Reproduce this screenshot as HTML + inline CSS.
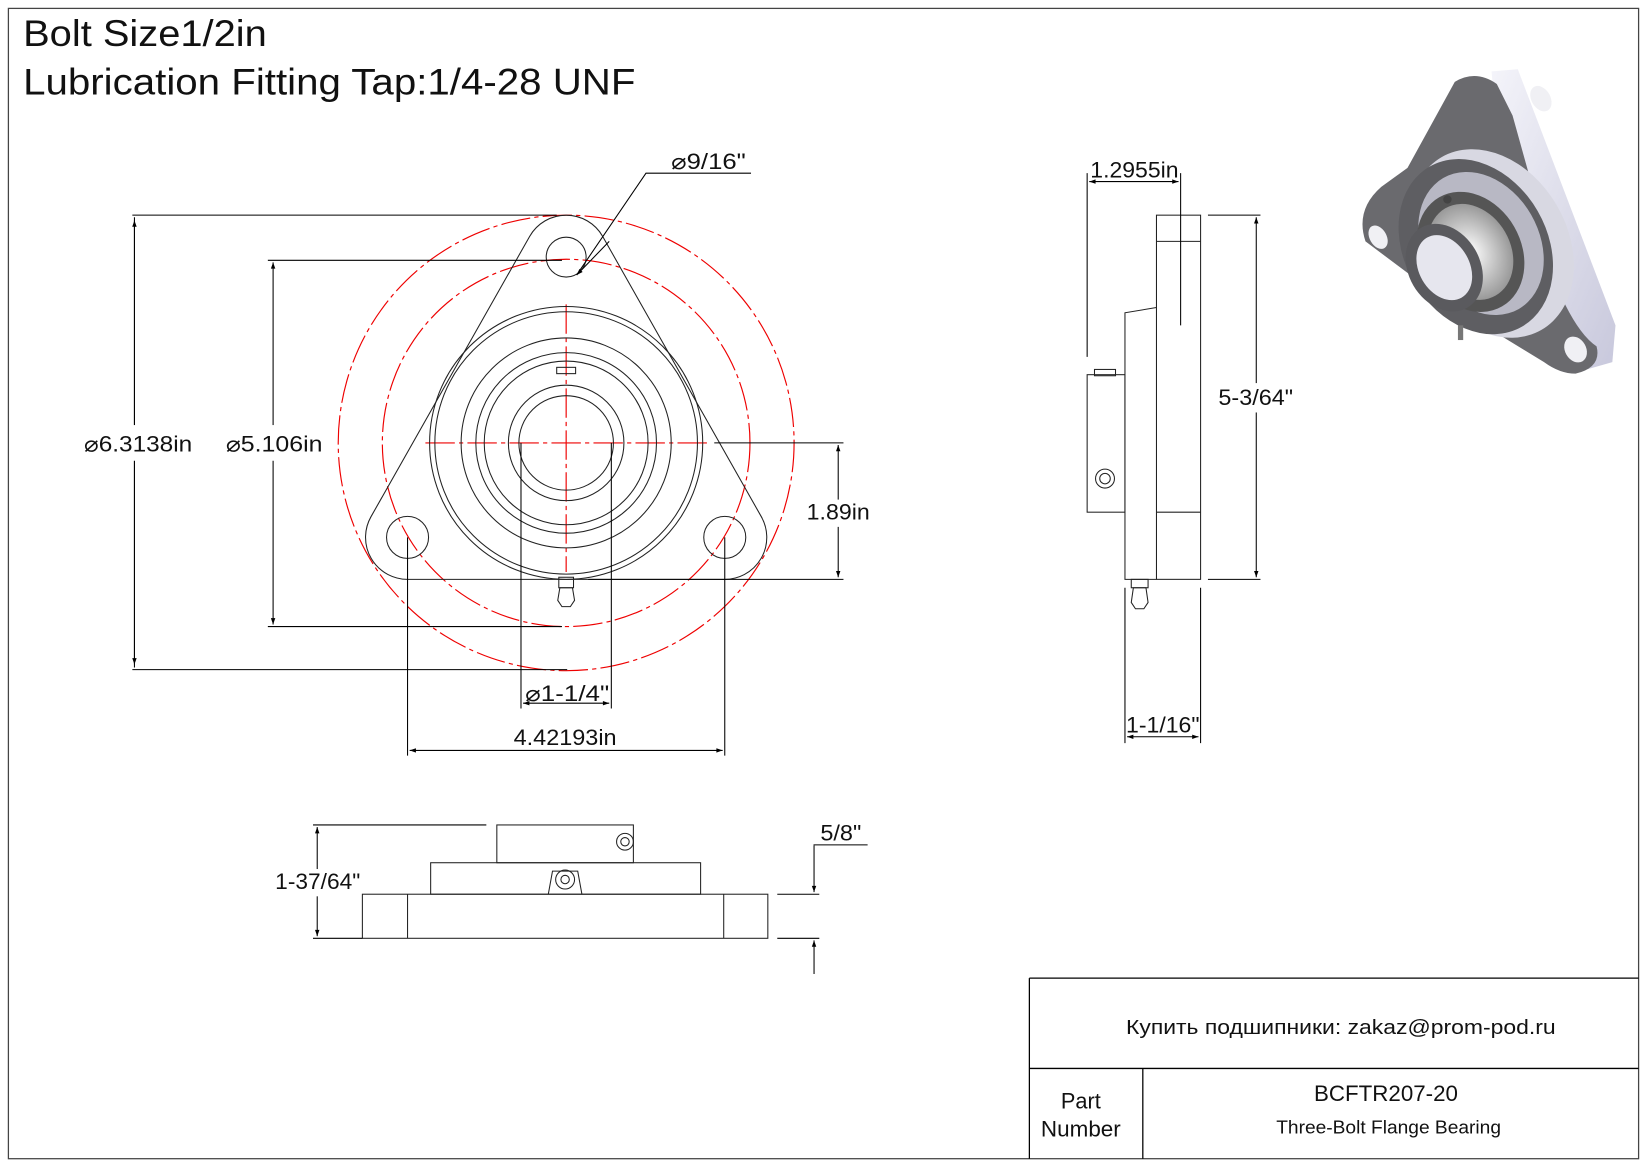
<!DOCTYPE html>
<html><head><meta charset="utf-8"><style>
html,body{margin:0;padding:0;background:#fff}
svg{display:block}
text{font-family:"Liberation Sans","DejaVu Sans",sans-serif;fill:#111}
</style></head><body>
<svg width="1647" height="1165" viewBox="0 0 1568 1110" preserveAspectRatio="none" xmlns="http://www.w3.org/2000/svg">
<defs>
<marker id="a" viewBox="0 0 10 10" refX="10" refY="5" markerWidth="14" markerHeight="6" markerUnits="userSpaceOnUse" orient="auto-start-reverse"><path d="M0,1.5 L10,5 L0,8.5z" fill="#000"/></marker>
<linearGradient id="g1" x1="0" y1="0" x2="1" y2="1"><stop offset="0" stop-color="#f4f4fa"/><stop offset="1" stop-color="#c8c8dc"/></linearGradient>
<radialGradient id="g2"><stop offset="0" stop-color="#fff"/><stop offset="1" stop-color="#999"/></radialGradient>
</defs>
<rect x="8" y="8" width="1552" height="1096" fill="none" stroke="#444" stroke-width="1.2"/>
<text x="22" y="44" font-size="35" textLength="232" lengthAdjust="spacingAndGlyphs">Bolt Size1/2in</text>
<text x="22" y="90" font-size="35" textLength="583" lengthAdjust="spacingAndGlyphs">Lubrication Fitting Tap:1/4-28 UNF</text>

<!-- table -->
<g stroke="#000" stroke-width="1.2" fill="none">
<path d="M980 932 H1560 M980 1018 H1560 M980 932 V1104 M1088 1018 V1104"/>
</g>
<text x="1072" y="985" font-size="19" textLength="409" lengthAdjust="spacingAndGlyphs">Купить подшипники: zakaz@prom-pod.ru</text>
<text x="1010" y="1056" font-size="21" textLength="38" lengthAdjust="spacingAndGlyphs">Part</text>
<text x="991" y="1083" font-size="21" textLength="76" lengthAdjust="spacingAndGlyphs">Number</text>
<text x="1251" y="1049" font-size="21" textLength="137" lengthAdjust="spacingAndGlyphs">BCFTR207-20</text>
<text x="1215" y="1080" font-size="18" textLength="214" lengthAdjust="spacingAndGlyphs">Three-Bolt Flange Bearing</text>

<!-- front view -->
<g fill="none" stroke="#e00" stroke-width="1.1" stroke-dasharray="28,4,4,4">
<circle cx="539" cy="422" r="217"/>
<circle cx="539" cy="422" r="175"/>
<path d="M405 422 H675 M539 290 V545"/>
</g>
<g fill="none" stroke="#222" stroke-width="1">
<path d="M504.2 225.3 A40 40 0 0 1 573.8 225.3 L724.8 492.3 A40 40 0 0 1 690 552 L388 552 A40 40 0 0 1 353.2 492.3 Z"/>
<circle cx="539" cy="245" r="19"/>
<circle cx="388" cy="512" r="20"/>
<circle cx="690" cy="512" r="20"/>
<circle cx="539" cy="422" r="130"/>
<circle cx="539" cy="422" r="125"/>
<circle cx="539" cy="422" r="100"/>
<circle cx="539" cy="422" r="86"/>
<circle cx="539" cy="422" r="78"/>
<circle cx="539" cy="422" r="55"/>
<circle cx="539" cy="422" r="45"/>
<rect x="530" y="350" width="18" height="6"/>
<rect x="532" y="550" width="14" height="10"/>
<path d="M533 560 h12 l2 12 l-4 6 h-8 l-4 -6 z"/>
</g>
<!-- front dims -->
<g stroke="#000" stroke-width="1" fill="none">
<path d="M126 205 H530 M126 638 H540 M128 207 V636" />
<path d="M255 248 H535 M255 597 H535"/>
<path d="M680 422 H803 M560 552 H803"/>
<path d="M496 422 V675 M582 422 V675"/>
<path d="M388 512 V720 M690 512 V720"/>
<path d="M549 262 L615 165 H715"/>
<path d="M128 210 V633" marker-start="url(#a)" marker-end="url(#a)"/>
<path d="M260 250 V595" marker-start="url(#a)" marker-end="url(#a)"/>
<path d="M798 424 V550" marker-start="url(#a)" marker-end="url(#a)"/>
<path d="M498 670 H580" marker-start="url(#a)" marker-end="url(#a)"/>
<path d="M390 715 H688" marker-start="url(#a)" marker-end="url(#a)"/>
<path d="M580 230 L549 262" marker-end="url(#a)"/>
</g>
<rect x="74" y="405" width="112" height="34" fill="#fff"/>
<text x="80" y="430" font-size="21" textLength="103" lengthAdjust="spacingAndGlyphs">⌀6.3138in</text>
<rect x="210" y="405" width="100" height="34" fill="#fff"/>
<text x="215" y="430" font-size="21" textLength="92" lengthAdjust="spacingAndGlyphs">⌀5.106in</text>
<rect x="766" y="476" width="64" height="26" fill="#fff"/>
<text x="768" y="495" font-size="21" textLength="60" lengthAdjust="spacingAndGlyphs">1.89in</text>
<text x="500" y="668" font-size="21" textLength="80" lengthAdjust="spacingAndGlyphs">⌀1-1/4"</text>
<text x="489" y="710" font-size="21" textLength="98" lengthAdjust="spacingAndGlyphs">4.42193in</text>
<text x="639" y="161" font-size="21" textLength="71" lengthAdjust="spacingAndGlyphs">⌀9/16"</text>

<!-- side view -->
<g fill="none" stroke="#222" stroke-width="1">
<rect x="1101" y="205" width="42" height="347"/>
<path d="M1101 230 H1143 M1101 488 H1143"/>
<path d="M1101 293 L1071 298 V552 H1101"/>
<rect x="1035" y="357" width="36" height="131"/>
<rect x="1042" y="352" width="20" height="6"/>
<circle cx="1052" cy="456" r="9"/><circle cx="1052" cy="456" r="5"/>
<rect x="1077" y="552" width="16" height="8"/>
<path d="M1079 560 h12 l2 14 l-4 6 h-8 l-4 -6 z"/>
</g>
<g stroke="#000" stroke-width="1" fill="none">
<path d="M1035 165 V340 M1124 165 V310"/>
<path d="M1037 173 H1122" marker-start="url(#a)" marker-end="url(#a)"/>
<path d="M1150 205 H1200 M1150 552 H1200"/>
<path d="M1196 207 V550" marker-start="url(#a)" marker-end="url(#a)"/>
<path d="M1071 560 V708 M1143 560 V708"/>
<path d="M1073 702 H1141" marker-start="url(#a)" marker-end="url(#a)"/>
</g>
<text x="1038" y="169" font-size="21" textLength="84" lengthAdjust="spacingAndGlyphs">1.2955in</text>
<rect x="1158" y="365" width="76" height="28" fill="#fff"/>
<text x="1160" y="386" font-size="21" textLength="71" lengthAdjust="spacingAndGlyphs">5-3/64"</text>
<text x="1072" y="698" font-size="21" textLength="70" lengthAdjust="spacingAndGlyphs">1-1/16"</text>

<!-- bottom view -->
<g fill="none" stroke="#222" stroke-width="1">
<rect x="345" y="852" width="386" height="42"/>
<path d="M388 852 V894 M689 852 V894"/>
<rect x="410" y="822" width="257" height="30"/>
<rect x="473" y="786" width="130" height="36"/>
<circle cx="595" cy="802" r="8"/><circle cx="595" cy="802" r="4"/>
<path d="M522 852 L526 830 h24 l4 22"/>
<circle cx="538" cy="838" r="9"/><circle cx="538" cy="838" r="4"/>
</g>
<g stroke="#000" stroke-width="1" fill="none">
<path d="M298 786 H463 M298 894 H345"/>
<path d="M302 788 V892" marker-start="url(#a)" marker-end="url(#a)"/>
<path d="M740 852 H780 M740 894 H780"/>
<path d="M775 806 V850" marker-end="url(#a)"/>
<path d="M775 928 V896" marker-end="url(#a)"/>
<path d="M775 806 V805 H826"/>
</g>
<rect x="258" y="828" width="86" height="26" fill="#fff"/>
<text x="262" y="847" font-size="21" textLength="81" lengthAdjust="spacingAndGlyphs">1-37/64"</text>
<text x="781" y="801" font-size="21" textLength="39" lengthAdjust="spacingAndGlyphs">5/8"</text>

<!-- 3D image -->
<g stroke="none">
<path d="M1420 68 L1445 66 L1538 310 L1535 345 L1500 355 L1440 300 Z" fill="url(#g1)"/>
<path d="M1385 78 Q1405 66 1425 80 L1440 110 L1490 290 Q1505 320 1520 330 Q1525 350 1500 356 Q1485 356 1470 345 L1380 290 L1300 230 Q1290 200 1315 178 L1340 160 Z" fill="#6a6a6e"/>
<ellipse cx="1467" cy="94" rx="9" ry="13" fill="#f0f0f4" transform="rotate(-30 1467 94)"/>
<ellipse cx="1312" cy="226" rx="8" ry="12" fill="#f0f0f4" transform="rotate(-30 1312 226)"/>
<ellipse cx="1500" cy="333" rx="10" ry="13" fill="#f0f0f4" transform="rotate(-30 1500 333)"/>
<ellipse cx="1420" cy="232" rx="72" ry="95" fill="#d8d8e2" transform="rotate(-30 1420 232)"/>
<ellipse cx="1405" cy="235" rx="68" ry="88" fill="#5e5e62" transform="rotate(-30 1405 235)"/>
<ellipse cx="1410" cy="232" rx="55" ry="72" fill="#b8b8c4" transform="rotate(-30 1410 232)"/>
<ellipse cx="1400" cy="240" rx="48" ry="60" fill="#555" transform="rotate(-30 1400 240)"/>
<ellipse cx="1400" cy="240" rx="38" ry="48" fill="url(#g2)" transform="rotate(-30 1400 240)"/>
<ellipse cx="1375" cy="255" rx="34" ry="44" fill="#5a5a5e" transform="rotate(-30 1375 255)"/>
<ellipse cx="1375" cy="255" rx="24" ry="33" fill="#e6e6ee" transform="rotate(-30 1375 255)"/>
<circle cx="1378" cy="190" r="4" fill="#444"/>
<rect x="1388" y="310" width="5" height="14" fill="#777"/>
</g>
</svg>
</body></html>
